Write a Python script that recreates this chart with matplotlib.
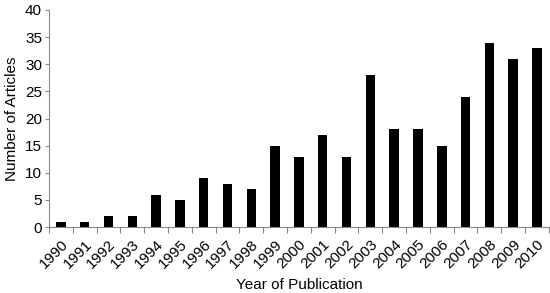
import matplotlib.pyplot as plt
import numpy as np

years = [str(y) for y in range(1990, 2011)]
articles = [1, 1, 2, 2, 6, 5, 9, 8, 7, 15, 13, 17, 13, 28, 18, 18, 15, 24, 34, 31, 33]
y_ticks = [0, 5, 10, 15, 20, 25, 30, 35, 40]

plt.rcParams['font.family'] = ['Liberation Sans', 'DejaVu Sans']

fig = plt.figure(figsize=(5.5, 2.93), dpi=100)
ax = fig.add_axes([0.089, 0.225, 0.909, 0.741])

x = np.arange(len(years))
ax.bar(x, articles, width=0.4, color='black')

ax.set_xlim(-0.5, len(years) - 0.5)
ax.set_ylim(0, 40)
ax.set_yticks(y_ticks)
ax.set_xticks(x)
ax.set_xticklabels(years, rotation=45, ha='right', rotation_mode='anchor', fontsize=11)
ax.set_xticks(np.arange(-0.5, len(years)), minor=True)
ax.tick_params(axis='x', which='major', length=0, pad=7)
ax.tick_params(axis='x', which='minor', length=4, color='#888888', width=0.8)
ax.tick_params(axis='y', length=3, color='#888888', width=0.8, labelsize=11, pad=2)

for side in ('top', 'right'):
    ax.spines[side].set_visible(False)
for side in ('left', 'bottom'):
    ax.spines[side].set_color('#888888')
    ax.spines[side].set_linewidth(0.8)

ax.set_xlabel('Year of Publication', fontsize=11, labelpad=5)
ax.set_ylabel('Number of Articles', fontsize=11, labelpad=4)

fig.savefig('out.png', dpi=100)
